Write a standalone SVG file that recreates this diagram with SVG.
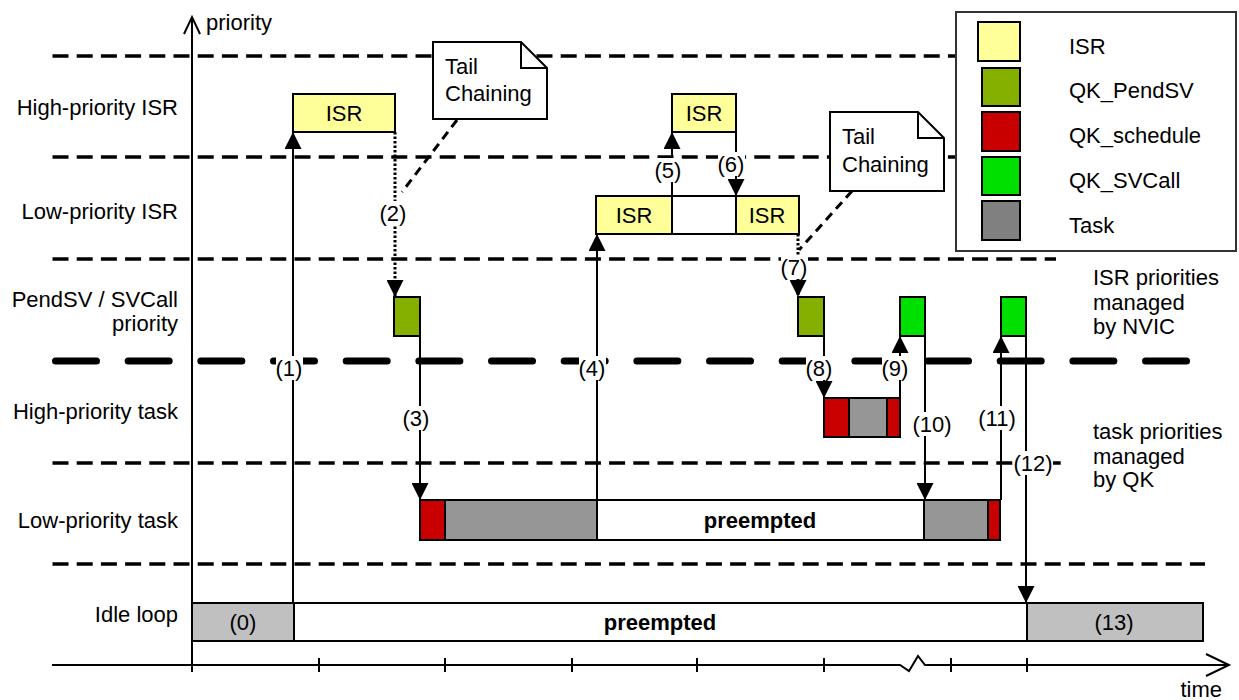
<svg xmlns="http://www.w3.org/2000/svg" width="1239" height="700" viewBox="0 0 1239 700">
<defs>
<marker id="ah" markerUnits="userSpaceOnUse" markerWidth="17" markerHeight="17" refX="16" refY="8.5" orient="auto"><path d="M0,0 L17,8.5 L0,17 z" fill="#000"/></marker>
<style>
text{font-family:"Liberation Sans",Arial,sans-serif;font-size:22px;fill:#000}
.m{text-anchor:middle}
.e{text-anchor:end}
.b{font-weight:bold}
.dl{stroke:#000;stroke-width:3.5;stroke-dasharray:16 8.2;fill:none}
.tk{stroke:#000;stroke-width:7;stroke-linecap:round;stroke-dasharray:41 31.67;fill:none}
.bx{stroke:#000;stroke-width:2}
.ln{stroke:#000;stroke-width:2;fill:none}
.ar{stroke:#000;stroke-width:2;fill:none;marker-end:url(#ah)}
.dot{stroke:#000;stroke-width:3;stroke-dasharray:2.5 2;fill:none;marker-end:url(#ah)}
.cp{stroke:#000;stroke-width:3;stroke-dasharray:9 6;fill:none}
.wb{fill:#fff}
.isr{fill:#ffff99}
.pend{fill:#86b000}
.sch{fill:#c80000}
.svc{fill:#00e000}
.task{fill:#969696}
.idle{fill:#c0c0c0}
.wh{fill:#fff}
</style>
</defs>

<g id="grid">
<path class="dl" d="M52.5,56 H956"/>
<path class="dl" d="M52.5,157 H956"/>
<path class="dl" d="M52.5,259 H1056"/>
<path class="dl" d="M52.5,463 H1062"/>
<path class="dl" d="M52.5,564 H1205"/>
<path class="tk" d="M55.5,361 H1187"/>
</g>

<g id="axes">
<path class="ln" d="M192,17 V672"/>
<path class="ln" d="M184,34 L192,17 L200,34"/>
<text x="206" y="30">priority</text>
<path class="ln" d="M52,665 H900 L909,671 L918,656 L925,665 H1228"/>
<path class="ln" d="M1206,654 L1229,665 L1206,676"/>
<path class="ln" d="M319,658 V672 M445,658 V672 M572,658 V672 M697,658 V672 M824,658 V672 M951,658 V672 M1027,658 V672"/>
<text x="1222" y="697" class="e">time</text>
</g>

<g id="row-labels">
<text x="178" y="115" class="e">High-priority ISR</text>
<text x="178" y="219" class="e">Low-priority ISR</text>
<text x="178" y="307" class="e">PendSV / SVCall</text>
<text x="178" y="331" class="e">priority</text>
<text x="178" y="419" class="e">High-priority task</text>
<text x="178" y="528" class="e">Low-priority task</text>
<text x="178" y="622" class="e">Idle loop</text>
</g>

<g id="side-labels">
<text x="1093" y="285">ISR priorities</text>
<text x="1093" y="310">managed</text>
<text x="1093" y="334">by NVIC</text>
<text x="1093" y="439">task priorities</text>
<text x="1093" y="464">managed</text>
<text x="1093" y="487">by QK</text>
</g>

<g id="legend">
<rect x="956" y="12" width="280" height="239" fill="#fff" stroke="#333" stroke-width="2"/>
<rect x="978" y="22" width="42" height="39" class="isr bx"/>
<rect x="982" y="68" width="38" height="38" class="pend bx"/>
<rect x="982" y="112" width="38" height="39" class="sch bx"/>
<rect x="982" y="157" width="38" height="38" class="svc bx"/>
<rect x="982" y="201" width="38" height="39" fill="#808080" class="bx"/>
<text x="1069" y="54">ISR</text>
<text x="1069" y="98">QK_PendSV</text>
<text x="1069" y="143">QK_schedule</text>
<text x="1069" y="188">QK_SVCall</text>
<text x="1069" y="233">Task</text>
</g>

<g id="callout1">
<path d="M433,42 H521 L547,68 V119 H433 Z" fill="#fff" stroke="#000" stroke-width="2"/>
<path d="M521,42 V68 H547" class="ln"/>
<text x="445" y="74">Tail</text>
<text x="445" y="101">Chaining</text>
</g>
<g id="callout2">
<path d="M830,112 H918 L944,138 V191 H830 Z" fill="#fff" stroke="#000" stroke-width="2"/>
<path d="M918,112 V138 H944" class="ln"/>
<text x="842" y="144">Tail</text>
<text x="842" y="172">Chaining</text>
</g>

<g id="hi-isr-1">
<rect x="293" y="94" width="102" height="38" class="isr bx"/>
<text x="344" y="121" class="m">ISR</text>
</g>
<g id="hi-isr-2">
<rect x="672" y="94" width="64" height="38" class="isr bx"/>
<text x="704" y="121" class="m">ISR</text>
</g>
<g id="lo-isr">
<rect x="596" y="196" width="76" height="38" class="isr bx"/>
<rect x="672" y="196" width="64" height="38" class="wh bx"/>
<rect x="736" y="196" width="63" height="38" class="isr bx"/>
<text x="634" y="223" class="m">ISR</text>
<text x="767" y="223" class="m">ISR</text>
</g>
<g id="pendsv-1"><rect x="394" y="297" width="26" height="39" class="pend bx"/></g>
<g id="pendsv-2"><rect x="798" y="297" width="26" height="39" class="pend bx"/></g>
<g id="svcall-1"><rect x="900" y="297" width="25" height="39" class="svc bx"/></g>
<g id="svcall-2"><rect x="1001" y="297" width="25" height="39" class="svc bx"/></g>
<g id="hi-task">
<rect x="824" y="398" width="25" height="39" class="sch bx"/>
<rect x="849" y="398" width="38" height="39" class="task bx"/>
<rect x="887" y="398" width="13" height="39" class="sch bx"/>
</g>
<g id="lo-task">
<rect x="420" y="500" width="25" height="40" class="sch bx"/>
<rect x="445" y="500" width="152" height="40" class="task bx"/>
<rect x="597" y="500" width="327" height="40" class="wh bx"/>
<rect x="924" y="500" width="64" height="40" class="task bx"/>
<rect x="988" y="500" width="12" height="40" class="sch bx"/>
<text x="760" y="528" class="m b">preempted</text>
</g>
<g id="idle">
<rect x="192" y="603" width="102" height="38" class="idle bx"/>
<rect x="294" y="603" width="733" height="38" class="wh bx"/>
<rect x="1027" y="603" width="176" height="38" class="idle bx"/>
<text x="243" y="630" class="m">(0)</text>
<text x="660" y="630" class="m b">preempted</text>
<text x="1114" y="630" class="m">(13)</text>
</g>

<g id="connectors">
<path class="cp" d="M457,120 L402,192"/>
<path class="cp" d="M852,191 L799,250"/>
<path class="ar" d="M293,603 V133"/>
<path class="dot" d="M395,132 V296"/>
<path class="ar" d="M420,336 V499"/>
<path class="ar" d="M597,500 V235"/>
<path class="ar" d="M672,196 V133"/>
<path class="ar" d="M736,132 V195"/>
<path class="dot" d="M798,234 V296"/>
<path class="ar" d="M824,336 V397"/>
<path class="ar" d="M900,398 V337"/>
<path class="ar" d="M925,336 V499"/>
<path class="ar" d="M1001,500 V337"/>
<path class="ar" d="M1026,336 V602"/>
</g>

<g id="step-labels">
<rect x="276" y="356" width="27" height="24" class="wb"/><text x="289" y="376" class="m">(1)</text>
<rect x="380" y="201" width="27" height="24" class="wb"/><text x="393" y="221" class="m">(2)</text>
<rect x="403" y="406" width="27" height="24" class="wb"/><text x="416" y="426" class="m">(3)</text>
<rect x="579" y="356" width="27" height="24" class="wb"/><text x="592" y="376" class="m">(4)</text>
<rect x="655" y="158" width="27" height="24" class="wb"/><text x="668" y="178" class="m">(5)</text>
<rect x="718" y="152" width="27" height="24" class="wb"/><text x="731" y="172" class="m">(6)</text>
<rect x="781" y="255" width="27" height="24" class="wb"/><text x="794" y="275" class="m">(7)</text>
<rect x="806" y="356" width="27" height="24" class="wb"/><text x="819" y="376" class="m">(8)</text>
<rect x="882" y="356" width="27" height="24" class="wb"/><text x="895" y="376" class="m">(9)</text>
<rect x="913" y="412" width="39" height="24" class="wb"/><text x="932" y="432" class="m">(10)</text>
<rect x="978" y="406" width="39" height="24" class="wb"/><text x="997" y="426" class="m">(11)</text>
<rect x="1014" y="451" width="39" height="24" class="wb"/><text x="1033" y="471" class="m">(12)</text>
</g>
</svg>
